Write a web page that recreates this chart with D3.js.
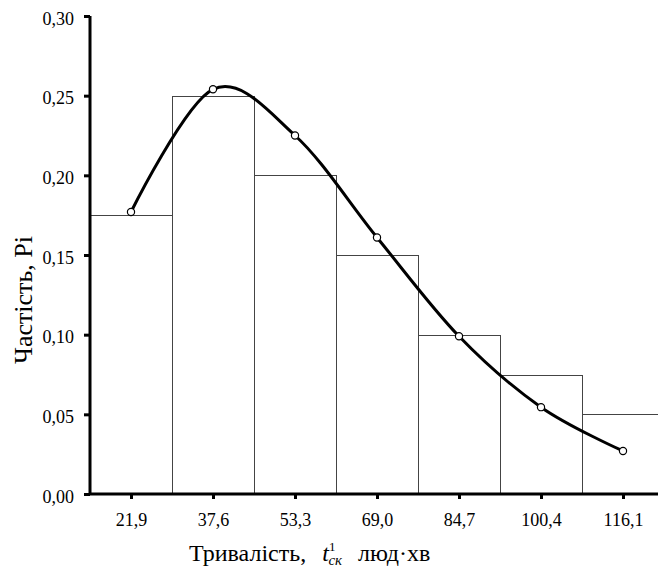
<!DOCTYPE html>
<html>
<head>
<meta charset="utf-8">
<script src="https://cdn.jsdelivr.net/npm/d3@7"></script>
<style>
  html, body { margin: 0; padding: 0; background: #fff; }
  svg { display: block; }
</style>
</head>
<body>
<svg id="chart" width="658" height="569"></svg>
<script>
// ---- data ----
const categories = [21.9, 37.6, 53.3, 69.0, 84.7, 100.4, 116.1];
const categoryLabels = ["21,9", "37,6", "53,3", "69,0", "84,7", "100,4", "116,1"];
const barFreq = [0.175, 0.25, 0.20, 0.15, 0.10, 0.075, 0.05];
const curveFreq = [0.177, 0.254, 0.225, 0.161, 0.099, 0.0545, 0.027];
const yTicks = [0, 0.05, 0.10, 0.15, 0.20, 0.25, 0.30];

const FONT = "'Times New Roman', Times, 'Liberation Serif', 'Noto Serif', 'DejaVu Serif', serif";
const svg = d3.select("#chart");
const half = (categories[1] - categories[0]) / 2;

const x = d3.scaleLinear()
  .domain([categories[0] - half, categories[categories.length - 1] + half])
  .range([90, 664]);
const y = d3.scaleLinear().domain([0, 0.30]).range([494, 16]);

// bars
svg.append("g")
  .selectAll("rect")
  .data(categories)
  .join("rect")
  .attr("x", (d) => Math.round(x(d - half)) + 0.5)
  .attr("y", (d, i) => Math.round(y(barFreq[i])) + 0.5)
  .attr("width", (d) => Math.round(x(d + half)) - Math.round(x(d - half)))
  .attr("height", (d, i) => Math.round(y(0)) - Math.round(y(barFreq[i])))
  .attr("fill", "#fff")
  .attr("stroke", "#444")
  .attr("stroke-width", 1);

// curve
const pts = categories.map((c, i) => [x(c), y(curveFreq[i])]);
svg.append("path")
  .attr("d", d3.line().curve(d3.curveCardinal.tension(0))(pts))
  .attr("fill", "none")
  .attr("stroke", "#000")
  .attr("stroke-width", 3);

svg.append("g")
  .selectAll("circle")
  .data(pts)
  .join("circle")
  .attr("cx", (d) => d[0])
  .attr("cy", (d) => d[1])
  .attr("r", 3.6)
  .attr("fill", "#fff")
  .attr("stroke", "#000")
  .attr("stroke-width", 1.2);

// y axis
const yAxis = d3.axisLeft(y)
  .tickValues(yTicks)
  .tickSize(6)
  .tickPadding(10)
  .tickFormat((d) => d3.format(".2f")(d).replace(".", ","));
const gy = svg.append("g").attr("transform", "translate(90,0)").call(yAxis)
  .attr("font-family", FONT).attr("font-size", 18);
gy.select(".domain").attr("stroke", "#000").attr("stroke-width", 3).attr("d", `M0,${y(0.30)}V${y(0)}`);
gy.selectAll(".tick line").attr("stroke", "#000").attr("stroke-width", 3);
gy.selectAll(".tick text").attr("dy", "0.45em");

// x axis
const xAxis = d3.axisBottom(x)
  .tickValues(categories)
  .tickSize(5)
  .tickPadding(14)
  .tickFormat((d, i) => categoryLabels[i]);
const gx = svg.append("g").attr("transform", `translate(0,${y(0)})`).call(xAxis)
  .attr("font-family", FONT).attr("font-size", 18);
gx.select(".domain").attr("stroke", "#000").attr("stroke-width", 3).attr("d", "M89,0H658");
gx.selectAll(".tick line").attr("stroke", "#000").attr("stroke-width", 3);

// y title
svg.append("text")
  .attr("transform", "translate(32,300) rotate(-90)")
  .attr("text-anchor", "middle")
  .attr("font-family", FONT)
  .attr("font-size", 26)
  .text("Частість, Рі");

// x title
const xt = svg.append("text")
  .attr("x", 189)
  .attr("y", 561)
  .attr("font-family", FONT)
  .attr("font-size", 24);
xt.append("tspan").text("Тривалість,");
xt.append("tspan").attr("dx", 16).style("font-style", "italic").text("t");
xt.append("tspan").attr("dy", -10).attr("font-size", 13).text("1");
xt.append("tspan").attr("dx", -7).attr("dy", 14).attr("font-size", 15).style("font-style", "italic").text("ск");
xt.append("tspan").attr("dx", 16).attr("dy", -4).text("люд·хв");
</script>
</body>
</html>
